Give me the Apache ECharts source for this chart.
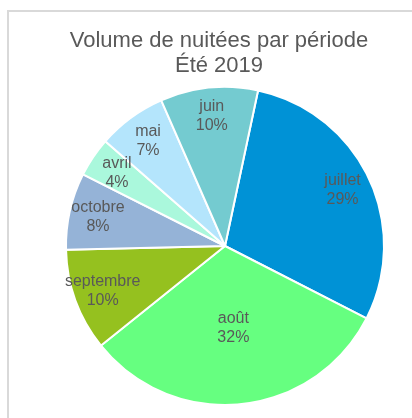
<!DOCTYPE html>
<html>
<head>
<meta charset="utf-8">
<script src="https://cdn.jsdelivr.net/npm/echarts@6/dist/echarts.min.js"></script>
<style>
  html, body { margin: 0; padding: 0; background: #fff; overflow: hidden; }
  #frame {
    position: absolute; left: 7px; top: 10px;
    width: 440px; height: 440px;
    border: 2px solid #d9d9d9;
  }
  #chart { position: absolute; left: -9px; top: -12px; width: 438px; height: 418px; }
</style>
</head>
<body>
<div id="frame"><div id="chart"></div></div>
<script>
// mois, dans l'ordre du tracé (sens horaire depuis le haut)
var months = ['juillet', 'août', 'septembre', 'octobre', 'avril', 'mai', 'juin'];
// part des nuitées (%)
var shares = [29.2, 31.7, 10.4, 7.8, 4.0, 7.0, 9.9];
var colors = ['#0092d6', '#66ff80', '#95c11f', '#95b3d7', '#aaf8dc', '#b4e5fc', '#74cbd0'];

var chart = echarts.init(document.getElementById('chart'));

var center = [225, 246];
var R = 159;
var labelStyle = {
  color: '#595959',
  fontSize: 16,
  lineHeight: 19,
  fontFamily: 'Liberation Sans, Arial, sans-serif',
  formatter: function (p) {
    return p.name + '\n' + Math.round(p.percent) + '%';
  }
};

// août garde son étiquette près du centre, les autres près du bord
var baseData = months.map(function (m, i) {
  return {
    name: m,
    value: shares[i],
    itemStyle: { color: colors[i] },
    label: { show: m === 'août' }
  };
});
var labelData = months.map(function (m, i) {
  return {
    name: m,
    value: shares[i],
    label: { show: m !== 'août' }
  };
});

chart.setOption({
  animation: false,
  title: {
    text: 'Volume de nuitées par période\nÉté 2019',
    left: 'center',
    top: 28,
    padding: 0,
    textStyle: {
      color: '#595959',
      fontSize: 22,
      fontWeight: 'normal',
      lineHeight: 25,
      fontFamily: 'Liberation Sans, Arial, sans-serif'
    }
  },
  series: [
    {
      type: 'pie',
      center: center,
      radius: [0, R],
      startAngle: 78,
      clockwise: true,
      silent: true,
      label: Object.assign({ position: 'inside' }, labelStyle),
      labelLine: { show: false },
      itemStyle: { borderColor: '#fff', borderWidth: 2 },
      data: baseData
    },
    {
      type: 'pie',
      center: center,
      radius: [R * 0.6, R],
      startAngle: 78,
      clockwise: true,
      silent: true,
      label: Object.assign({ position: 'inside' }, labelStyle),
      labelLine: { show: false },
      itemStyle: { color: 'rgba(0,0,0,0)', borderWidth: 0 },
      data: labelData
    }
  ]
});
</script>
</body>
</html>
